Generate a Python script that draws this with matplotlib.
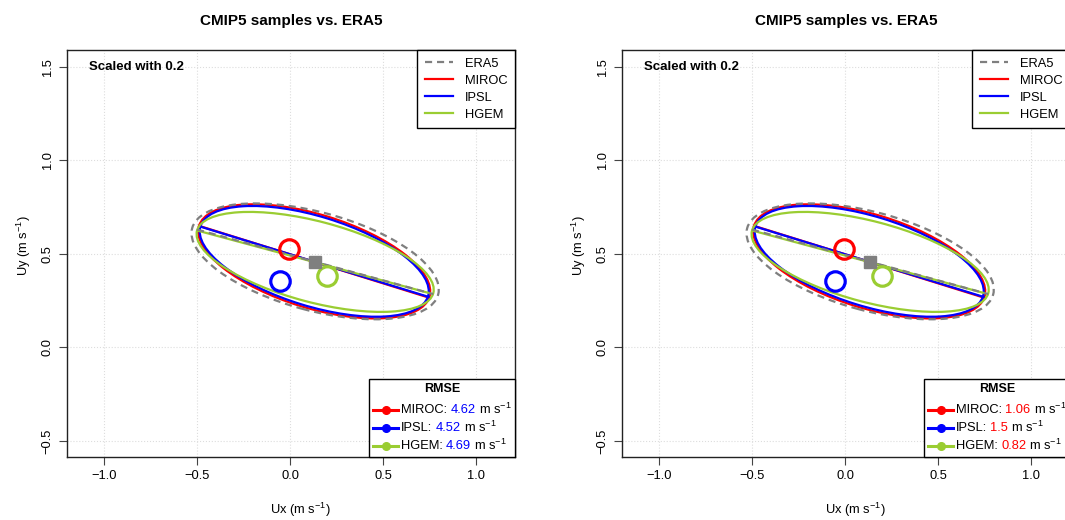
"""
CMIP5 wind ellipses vs. ERA5, two panels with different RMSE
"""

import matplotlib.pyplot as plt
from matplotlib.patches import Ellipse
from matplotlib.lines import Line2D
from matplotlib.offsetbox import AnchoredOffsetbox, VPacker, HPacker, TextArea, DrawingArea

plt.rcParams["font.family"] = ["Liberation Sans", "DejaVu Sans"]
plt.rcParams["mathtext.fontset"] = "custom"
plt.rcParams["mathtext.rm"] = "Liberation Sans"
plt.rcParams["mathtext.it"] = "Liberation Sans:italic"
plt.rcParams["mathtext.bf"] = "Liberation Sans:bold"

# data
names = ["ERA5", "MIROC", "IPSL", "HGEM"]
colors = ["#7F7F7F", "#FF0000", "#0000FF", "#9ACD32"]

# ellipse centre, semi axes (scaled) and orientation in degrees
center_x = [0.135, 0.13, 0.13, 0.135]
center_y = [0.46, 0.46, 0.46, 0.457]
semi_major = [0.685, 0.648, 0.64, 0.657]
semi_minor = [0.263, 0.25, 0.24, 0.216]
angle_deg = [-15.0, -17.0, -17.0, -14.7]

# major axis segments
axis_x0 = [-0.50, -0.49, -0.48, -0.50]
axis_y0 = [0.63, 0.65, 0.645, 0.625]
axis_x1 = [0.77, 0.75, 0.745, 0.75]
axis_y1 = [0.285, 0.265, 0.27, 0.29]

# mean wind of the models (open circles) and ERA5 (square)
mean_x = [0.135, -0.005, -0.055, 0.20]
mean_y = [0.458, 0.528, 0.355, 0.38]

rmse_left = [4.62, 4.52, 4.69]
rmse_right = [1.06, 1.5, 0.82]

xticks = [-1.0, -0.5, 0.0, 0.5, 1.0]
yticks = [-0.5, 0.0, 0.5, 1.0, 1.5]


def rmse_box(ax, values, value_color):
    title = TextArea("RMSE", textprops=dict(fontweight="bold", fontsize=9))
    rows = []
    for name, col, v in zip(names[1:], colors[1:], values):
        da = DrawingArea(18, 8, 0, 0)
        da.add_artist(Line2D([0, 18], [4, 4], color=col, lw=2.2))
        da.add_artist(Line2D([9], [4], marker="o", ms=5.5, color=col))
        parts = [
            da,
            TextArea(name + ":", textprops=dict(fontsize=9.3)),
            TextArea("%g" % v, textprops=dict(fontsize=9.3, color=value_color)),
            TextArea("m s$^{-1}$", textprops=dict(fontsize=9.3)),
        ]
        rows.append(HPacker(children=parts, align="center", pad=0, sep=2.2))
    entries = VPacker(children=rows, align="left", pad=0, sep=2.0)
    box = VPacker(children=[title, entries], align="center", pad=0, sep=5)
    anchored = AnchoredOffsetbox(loc="lower right", child=box, pad=0.3,
                                 borderpad=0, frameon=True, prop=dict(size=9))
    anchored.patch.set_boxstyle("square", pad=0)
    anchored.patch.set_edgecolor("black")
    anchored.patch.set_linewidth(1)
    anchored.zorder = 20
    ax.add_artist(anchored)


def panel(ax, values, value_color):
    # model ellipses first, ERA5 dashed on top
    order = [1, 2, 3, 0]
    for i in order:
        ls = (0, (3.2, 2.2)) if i == 0 else "-"
        z = 6 if i == 0 else 4
        ax.add_patch(Ellipse((center_x[i], center_y[i]), 2 * semi_major[i],
                             2 * semi_minor[i], angle=angle_deg[i], fill=False,
                             edgecolor=colors[i], lw=1.6, linestyle=ls, zorder=z))
        ax.plot([axis_x0[i], axis_x1[i]], [axis_y0[i], axis_y1[i]],
                color=colors[i], lw=1.6, linestyle=ls, zorder=z)
    for i in range(1, 4):
        ax.plot(mean_x[i], mean_y[i], "o", ms=14, mfc="none", mec=colors[i],
                mew=2.3, zorder=8)
    ax.plot(mean_x[0], mean_y[0], "s", ms=9, color=colors[0], zorder=9)

    ax.set_xlim(-1.2, 1.21)
    ax.set_ylim(-0.586, 1.59)
    ax.set_xticks(xticks)
    ax.set_yticks(yticks)
    ax.grid(True, linestyle=":", color="#DDDDDD", linewidth=0.8)
    ax.set_axisbelow(True)
    ax.tick_params(direction="out", length=5.5, width=0.8, labelsize=9.3, pad=4,
                   color="#444444")
    ax.tick_params(axis="y", labelrotation=90)
    for lab in ax.get_yticklabels():
        lab.set_va("center")
    for s in ax.spines.values():
        s.set_linewidth(1)
        s.set_color("#222222")

    ax.set_title("CMIP5 samples vs. ERA5", fontsize=11, fontweight="bold", pad=18)
    ax.set_xlabel("Ux (m s$^{-1}$)", fontsize=9.3)
    ax.set_ylabel("Uy (m s$^{-1}$)", fontsize=9.3)
    ax.xaxis.set_label_coords(0.52, -0.108)
    ax.yaxis.set_label_coords(-0.077, 0.52)
    ax.text(-1.08, 1.5, "Scaled with 0.2", fontsize=9.5, fontweight="bold",
            ha="left", va="center")

    handles = [Line2D([], [], color=c, lw=1.6,
                      linestyle=(0, (3.2, 2.2)) if n == "ERA5" else "-")
               for n, c in zip(names, colors)]
    leg = ax.legend(handles, names, loc="upper right", borderaxespad=0,
                    fancybox=False, edgecolor="black", framealpha=1, fontsize=9.3,
                    handlelength=2.2, handletextpad=0.9, labelspacing=0.38,
                    borderpad=0.6)
    leg.get_frame().set_linewidth(1)
    leg.set_zorder(20)

    rmse_box(ax, values, value_color)


figure = plt.figure(figsize=(10.65, 5.2), dpi=100)
figure.set_facecolor("white")
ax1 = figure.add_axes([67 / 1065, 63 / 520, 448 / 1065, 407 / 520])
ax2 = figure.add_axes([622 / 1065, 63 / 520, 448 / 1065, 407 / 520])

panel(ax1, rmse_left, "#0000FF")
panel(ax2, rmse_right, "#FF0000")

figure.savefig("out.png", dpi=100)
